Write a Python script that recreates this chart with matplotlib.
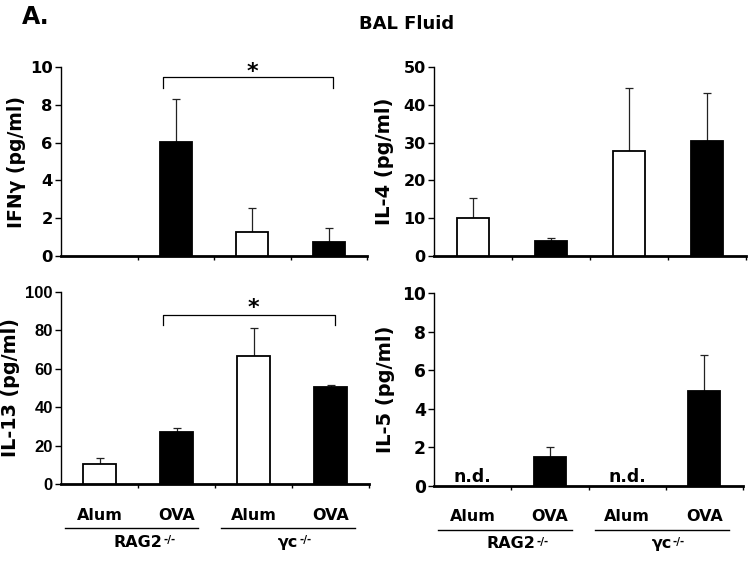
import matplotlib
matplotlib.use("Agg")
import matplotlib.pyplot as plt
import matplotlib.transforms as mtrans

plt.rcParams['font.family'] = ['DejaVu Sans']
plt.rcParams['font.weight'] = 'bold'

treatments = ["Alum", "OVA", "Alum", "OVA"]
groups = ["RAG2", "γc"]
group_sup = "-/-"
fill_colors = ["white", "black", "white", "black"]

ifng_mean = [0.0, 6.05, 1.29, 0.76]
ifng_top = [0.0, 8.3, 2.54, 1.47]
il4_mean = [10.0, 4.0, 27.9, 30.5]
il4_top = [15.3, 4.7, 44.5, 43.1]
il13_mean = [10.3, 27.1, 66.8, 50.3]
il13_top = [13.8, 29.0, 81.3, 51.5]
il5_mean = [0.0, 1.49, 0.0, 4.93]
il5_top = [0.0, 2.0, 0.0, 6.8]

panels = [
    dict(mean=ifng_mean, top=ifng_top, ylim=10, step=2, ylabel="IFNγ (pg/ml)",
         rect=[61/752, 1-256/563, 306/752, 189/563], ylx=-0.114, ylfs=13.5,
         tfont="DejaVu Sans", tfs=11.8,
         sig=dict(x0=0.83, x1=3.06, y=9.47, drop=0.6, star=9.44), nd=False, xl=False),
    dict(mean=il4_mean, top=il4_top, ylim=50, step=10, ylabel="IL-4 (pg/ml)",
         rect=[434/752, 1-256/563, 312/752, 189/563], ylx=-0.128, ylfs=14,
         tfont="DejaVu Sans", tfs=11.5,
         sig=None, nd=False, xl=False),
    dict(mean=il13_mean, top=il13_top, ylim=100, step=20, ylabel="IL-13 (pg/ml)",
         rect=[61/752, 1-484.3/563, 308/752, 192.6/563], ylx=-0.133, ylfs=13.8,
         tfont="Liberation Sans", tfs=12,
         sig=dict(x0=0.83, x1=3.06, y=87.9, drop=5.2, star=88.5), nd=False, xl=True),
    dict(mean=il5_mean, top=il5_top, ylim=10, step=2, ylabel="IL-5 (pg/ml)",
         rect=[434.3/752, 1-486/563, 308.4/752, 192.7/563], ylx=-0.128, ylfs=14,
         tfont="DejaVu Sans", tfs=12.3,
         sig=None, nd=True, xl=True),
]

fig = plt.figure(figsize=(7.52, 5.63), dpi=100)
fig.patch.set_facecolor("white")

x = list(range(4))
for p in panels:
    ax = fig.add_axes(p["rect"])
    mean, top = p["mean"], p["top"]
    err = [t - m for t, m in zip(top, mean)]
    for i in x:
        if mean[i] > 0:
            ax.bar(i, mean[i], width=0.42, color=fill_colors[i], edgecolor="black",
                   linewidth=1.3, zorder=3)
            ax.errorbar(i, mean[i], yerr=[[0], [err[i]]], fmt="none", ecolor="#222222",
                        elinewidth=0.9, capsize=3, capthick=0.9, zorder=2)
    ax.set_xlim(-0.5, 3.5)
    ax.set_ylim(0, p["ylim"])
    ax.set_yticks([v * p["step"] for v in range(int(p["ylim"] / p["step"]) + 1)])
    ax.set_xticks([0.5, 1.5, 2.5, 3.5])
    ax.set_xticklabels([])
    for s in ["top", "right"]:
        ax.spines[s].set_visible(False)
    ax.spines["left"].set_linewidth(1.0)
    ax.spines["bottom"].set_linewidth(2.0)
    ax.tick_params(axis="y", direction="out", length=4, width=1.0, labelsize=p["tfs"], pad=2)
    ax.tick_params(axis="x", direction="out", length=3, width=1.0)
    for lab in ax.get_yticklabels():
        lab.set_fontweight("bold")
        lab.set_family(p["tfont"])
    ax.set_ylabel(p["ylabel"], fontsize=p["ylfs"], fontweight="bold")
    ax.yaxis.set_label_coords(p["ylx"], 0.5)
    if p["sig"]:
        s = p["sig"]
        ax.plot([s["x0"], s["x0"], s["x1"], s["x1"]],
                [s["y"] - s["drop"], s["y"], s["y"], s["y"] - s["drop"]],
                color="black", lw=0.9, clip_on=False, zorder=4)
        ax.text((s["x0"] + s["x1"]) / 2 + 0.06, s["star"], "*", ha="center", va="baseline",
                fontsize=16, fontweight="bold")
    if p["nd"]:
        for i in x:
            if mean[i] == 0:
                ax.text(i, 0.22, "n.d.", ha="center", va="baseline", fontsize=12.5,
                        fontweight="bold")
    if p["xl"]:
        tr = mtrans.blended_transform_factory(ax.transData, ax.transAxes)
        for i in x:
            ax.text(i, -0.16, treatments[i], transform=tr, ha="center", va="center",
                    fontsize=11.5, fontweight="bold")
        for (a, b) in [(-0.45, 1.28), (1.58, 3.32)]:
            ax.plot([a, b], [-0.228, -0.228], transform=tr, color="black", lw=1.0,
                    clip_on=False)
        for gx, g in zip([0.50, 2.45], groups):
            t = ax.text(gx, -0.30, g, transform=tr, ha="center", va="center",
                        fontsize=11.5, fontweight="bold")
            ax.annotate(group_sup, xy=(1.0, 1.0), xycoords=t, xytext=(0.5, -4),
                        textcoords="offset points", ha="left", va="center",
                        fontsize=7.5, fontweight="bold")

fig.text(22/752, 1-17/563, "A.", ha="left", va="center", fontsize=17, fontweight="bold")
fig.text(407/752, 1-24/563, "BAL Fluid", ha="center", va="center", fontsize=13,
         fontweight="bold")

fig.savefig("out.png", dpi=100, facecolor="white")
